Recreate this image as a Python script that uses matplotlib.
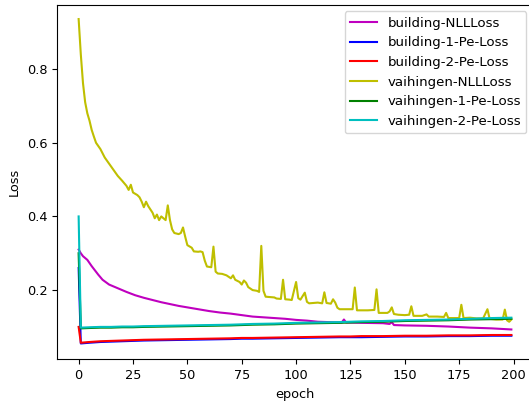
import matplotlib
matplotlib.use("Agg")
import matplotlib.pyplot as plt

plt.rcParams["font.size"] = 9.3

vai_nll_ep = [0, 1, 2, 3, 4, 5, 6, 7, 8, 10, 12, 15, 18, 20, 22, 23, 24, 25, 27, 28,
              29, 30, 31, 32, 34, 35, 36, 37, 38, 40, 41, 42, 43, 44, 46, 47, 48, 49, 50, 52,
              53, 55, 56, 57, 58, 59, 61, 62, 63, 64, 66, 68, 69, 70, 71, 72, 74, 75, 76, 77,
              78, 80, 82, 83, 84, 85, 86, 88, 90, 91, 93, 94, 95, 97, 98, 100, 101, 102, 104, 105,
              106, 108, 110, 112, 113, 114, 116, 117, 118, 119, 120, 122, 125, 126, 127, 128, 130, 133, 136, 137,
              138, 140, 142, 143, 144, 145, 147, 150, 152, 153, 154, 156, 158, 160, 161, 165, 168, 169, 170, 173,
              175, 176, 177, 180, 183, 186, 188, 189, 192, 195, 196, 197, 198, 199]
vai_nll = [0.936, 0.84, 0.762, 0.71, 0.68, 0.66, 0.635, 0.617, 0.60, 0.583, 0.56, 0.535, 0.51, 0.497, 0.483, 0.472, 0.486, 0.465, 0.458, 0.452,
           0.44, 0.425, 0.44, 0.428, 0.41, 0.395, 0.405, 0.39, 0.40, 0.39, 0.43, 0.39, 0.365, 0.355, 0.352, 0.355, 0.37, 0.345, 0.322, 0.315,
           0.305, 0.304, 0.305, 0.303, 0.28, 0.264, 0.262, 0.318, 0.25, 0.245, 0.244, 0.24, 0.236, 0.232, 0.24, 0.228, 0.222, 0.215, 0.226, 0.22,
           0.208, 0.2, 0.198, 0.195, 0.32, 0.198, 0.182, 0.181, 0.18, 0.177, 0.176, 0.228, 0.175, 0.174, 0.173, 0.222, 0.178, 0.174, 0.193, 0.168,
           0.164, 0.165, 0.166, 0.164, 0.194, 0.165, 0.163, 0.175, 0.166, 0.152, 0.148, 0.148, 0.148, 0.148, 0.207, 0.145, 0.145, 0.145, 0.146, 0.202,
           0.138, 0.138, 0.138, 0.142, 0.153, 0.135, 0.133, 0.132, 0.133, 0.156, 0.13, 0.13, 0.13, 0.134, 0.128, 0.128, 0.127, 0.138, 0.124, 0.124,
           0.124, 0.16, 0.124, 0.125, 0.123, 0.123, 0.148, 0.122, 0.12, 0.12, 0.147, 0.118, 0.114, 0.12]

# building-NLLLoss (magenta)
bld_nll_ep = [0, 1, 2, 4, 6, 9, 11, 14, 18, 22, 26, 30, 34, 38, 42, 46, 50, 55, 60, 65,
              70, 75, 80, 85, 90, 95, 100, 105, 110, 115, 120, 121, 122, 123, 130, 140, 143, 144, 145, 150,
              160, 170, 180, 190, 199]
bld_nll = [0.31, 0.30, 0.292, 0.282, 0.265, 0.242, 0.228, 0.215, 0.205, 0.195, 0.186, 0.179, 0.173, 0.167, 0.162, 0.157, 0.153, 0.148, 0.143, 0.139,
           0.136, 0.132, 0.128, 0.126, 0.124, 0.122, 0.119, 0.117, 0.114, 0.113, 0.112, 0.112, 0.12, 0.112, 0.111, 0.11, 0.108, 0.113, 0.105, 0.104,
           0.103, 0.101, 0.098, 0.096, 0.093]

# the four Pe-Loss curves
pe_ep = [0, 1, 5, 10, 15, 20, 25, 30, 40, 50, 60, 70, 75, 80, 90, 100, 110, 120, 125, 130,
         140, 150, 160, 170, 175, 180, 190, 199]
bld_pe1 = [0.26, 0.055, 0.057, 0.059, 0.060, 0.061, 0.062, 0.063, 0.064, 0.065, 0.066, 0.067, 0.068, 0.068, 0.069, 0.070, 0.071, 0.072, 0.072, 0.072,
           0.073, 0.074, 0.074, 0.075, 0.075, 0.075, 0.076, 0.076]
bld_pe2 = [0.10, 0.057, 0.059, 0.061, 0.062, 0.063, 0.064, 0.065, 0.066, 0.067, 0.068, 0.069, 0.070, 0.070, 0.071, 0.072, 0.073, 0.074, 0.074, 0.075,
           0.075, 0.076, 0.076, 0.077, 0.077, 0.077, 0.078, 0.078]
vai_pe1 = [0.30, 0.096, 0.097, 0.098, 0.098, 0.099, 0.099, 0.100, 0.101, 0.102, 0.103, 0.104, 0.105, 0.106, 0.107, 0.109, 0.110, 0.111, 0.112, 0.113,
           0.114, 0.116, 0.117, 0.118, 0.119, 0.120, 0.121, 0.122]
vai_pe2 = [0.40, 0.098, 0.099, 0.100, 0.100, 0.101, 0.101, 0.102, 0.103, 0.104, 0.105, 0.106, 0.107, 0.108, 0.109, 0.111, 0.112, 0.113, 0.114, 0.115,
           0.116, 0.118, 0.119, 0.120, 0.121, 0.122, 0.124, 0.125]

fig = plt.figure(figsize=(5.29, 4.03), dpi=100)
# right spine sits just outside the picture, as in the cropped original
ax = fig.add_axes([57 / 529, 43.7 / 403, 476 / 529, 354.6 / 403])
ax.plot(bld_nll_ep, bld_nll, color="m", label="building-NLLLoss")
ax.plot(pe_ep, bld_pe1, color="b", label="building-1-Pe-Loss")
ax.plot(pe_ep, bld_pe2, color="r", label="building-2-Pe-Loss")
ax.plot(vai_nll_ep, vai_nll, color="y", label="vaihingen-NLLLoss")
ax.plot(pe_ep, vai_pe1, color="g", label="vaihingen-1-Pe-Loss")
ax.plot(pe_ep, vai_pe2, color="c", label="vaihingen-2-Pe-Loss")
ax.set_xlim(-9.95, 208.95)
ax.set_ylim(0.012, 0.975)
ax.set_xlabel("epoch")
ax.set_ylabel("Loss")
ax.legend(loc="upper right", fontsize=9.6)
fig.savefig("out.png", dpi=100)
